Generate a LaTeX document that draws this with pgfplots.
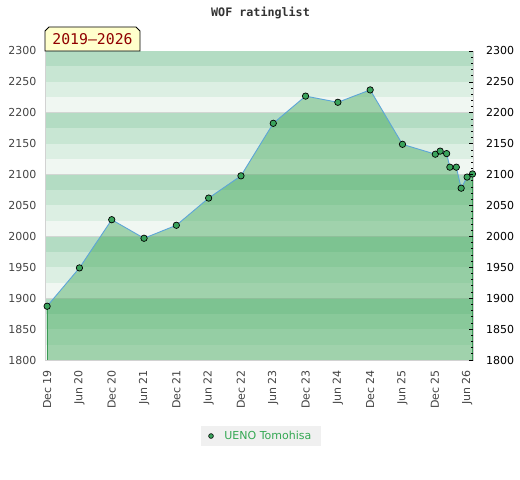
\documentclass[border=0pt]{standalone}
\usepackage{pgfplots}
\pgfplotsset{compat=1.18}
\usepackage{pgfplotstable}
\usepackage{fontspec}
\setmainfont{DejaVu Sans}
\newfontfamily\monofont{DejaVu Sans Mono}
\definecolor{bandA}{HTML}{B3DCC3}
\definecolor{bandB}{HTML}{C8E6D3}
\definecolor{bandC}{HTML}{DCEFE3}
\definecolor{bandD}{HTML}{F0F7F2}
\definecolor{gridgray}{HTML}{D2D6D3}
\definecolor{fillgreen}{RGB}{51,161,77}
\definecolor{edgegreen}{HTML}{3A9A55}
\definecolor{linecol}{HTML}{5DA5D8}
\definecolor{markgreen}{HTML}{3AA35C}
\definecolor{labgray}{HTML}{444444}
\definecolor{titlegray}{HTML}{333333}
\definecolor{legendbg}{HTML}{F0F0F0}
\definecolor{legendtext}{HTML}{34A853}
\definecolor{boxyellow}{HTML}{FFFFCC}
\definecolor{boxred}{HTML}{900000}

\pgfplotstableread{
x y
0 1887
6 1949
12 2027
18 1997
24 2018
30 2062
36 2098
42 2183
48 2227
54 2217
60 2237
66 2149
72.1 2133
73.0 2138
74.2 2134
74.8 2112
76.0 2112
76.9 2078
78.0 2096
79.0 2101
}\ratingtable

\begin{document}
\begin{tikzpicture}[x=1bp,y=1bp]
\path[use as bounding box] (0,0) rectangle (520,480);
\node[font=\monofont\bfseries\fontsize{11.7bp}{13bp}\selectfont, text=titlegray] at (260.5,467) {WOF ratinglist};
\begin{axis}[
  at={(45.5bp,120bp)}, anchor=south west,
  width=427.5bp, height=309bp, scale only axis,
  xmin=-0.3, xmax=79.1, ymin=1800, ymax=2300,
  xtick={0,6,...,78},
  xticklabels={Dec 19,Jun 20,Dec 20,Jun 21,Dec 21,Jun 22,Dec 22,Jun 23,Dec 23,Jun 24,Dec 24,Jun 25,Dec 25,Jun 26},
  ytick={1800,1850,...,2300},
  major tick length=0pt,
  axis line style={draw=gray!35, line width=0.8pt},
  /pgf/number format/assume math mode=true,
  /pgf/number format/set thousands separator={},
  tick label style={font=\fontsize{11bp}{13bp}\selectfont, inner sep=0pt},
  xticklabel style={rotate=90, anchor=east, text=labgray},
  yticklabel style={anchor=east, text=labgray},
  xticklabel shift=10bp,
  yticklabel shift=9bp,
  legend style={at={(0.504,-0.246)}, anchor=center, fill=legendbg, draw=none,
    font=\fontsize{11bp}{13bp}\selectfont, text=legendtext, inner xsep=7.5bp, inner ysep=3.5bp},
]
\fill[bandA] (axis cs:-0.3,1800) rectangle (axis cs:79.1,2300);
\pgfplotsinvokeforeach{18,19,20,21,22}{
  \fill[bandD] (axis cs:-0.3,#100) rectangle (axis cs:79.1,#125);
  \fill[bandC] (axis cs:-0.3,#125) rectangle (axis cs:79.1,#150);
  \fill[bandB] (axis cs:-0.3,#150) rectangle (axis cs:79.1,#175);
  \draw[gridgray, line width=0.8pt] (axis cs:-0.3,#100) -- (axis cs:79.1,#100);
}
\addplot[draw=none, fill=fillgreen, fill opacity=0.42, forget plot] table[x=x,y=y]{\ratingtable} \closedcycle;
\addplot[edgegreen, line width=0.9pt, forget plot] coordinates {(0,1800) (0,1887)};
\addplot[edgegreen, line width=0.9pt, forget plot] coordinates {(79,1800) (79,2101)};
\addplot[linecol, line width=0.9pt, mark=*, mark size=3.2bp,
  mark options={fill=markgreen, draw=black, line width=0.7pt}, forget plot] table[x=x,y=y]{\ratingtable};
\addlegendimage{only marks, mark=*, mark size=2.4bp, mark options={fill=markgreen, draw=black, line width=0.6pt}}
\addlegendentry{\hspace{9bp}UENO Tomohisa}
\end{axis}
\begin{axis}[
  at={(45.5bp,120bp)}, anchor=south west,
  width=427.5bp, height=309bp, scale only axis,
  xmin=-0.3, xmax=79.1, ymin=1800, ymax=2300,
  axis x line=none, axis y line*=right,
  y axis line style={draw=none},
  ytick={1800,1850,...,2300}, minor y tick num=4,
  tick align=inside, major tick length=4bp, minor tick length=2.5bp,
  tick style={black, line width=0.7pt},
  /pgf/number format/assume math mode=true,
  /pgf/number format/set thousands separator={},
  yticklabel style={font=\fontsize{11bp}{13bp}\selectfont, text=black, anchor=west, inner sep=0pt},
  yticklabel shift=13bp,
]
\end{axis}
\filldraw[fill=boxyellow, draw=black, line width=0.8pt] (45,429) -- (45,449) -- (49,453) -- (136,453) -- (140,449) -- (140,429) -- cycle;
\node[font=\monofont\fontsize{14.8bp}{16bp}\selectfont, text=boxred] at (92.5,440.5) {2019–2026};
\end{tikzpicture}
\end{document}
